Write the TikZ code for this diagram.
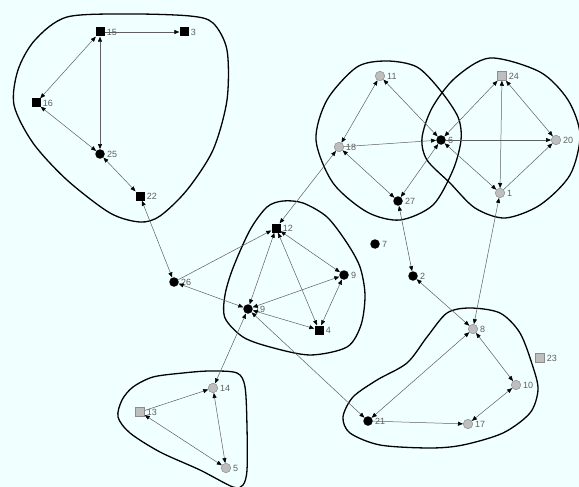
\documentclass[tikz,border=0pt]{standalone}
\usepackage{fontspec}
\setmainfont{Liberation Sans}
\usetikzlibrary{arrows.meta}
\definecolor{bg}{RGB}{240,255,255}
\definecolor{edgec}{RGB}{95,95,95}
\definecolor{gnode}{RGB}{190,190,190}
\definecolor{gline}{RGB}{140,140,140}
\definecolor{lblc}{RGB}{95,95,95}
\begin{document}
\begin{tikzpicture}[x=1pt,y=-1pt,
 bsq/.style={fill=black,rectangle,inner sep=0pt,minimum size=9pt},
 bc/.style={fill=black,circle,inner sep=0pt,minimum size=9.5pt},
 gc/.style={fill=gnode,draw=gline,line width=0.5pt,circle,inner sep=0pt,minimum size=9.5pt},
 gsq/.style={fill=gnode,draw=gline,line width=0.5pt,rectangle,inner sep=0pt,minimum size=9pt},
 lbl/.style={text=lblc,font=\fontsize{9}{10}\selectfont,inner sep=0pt,xshift=2pt},
 e/.style={draw=edgec,line width=0.5pt,>={Triangle[length=5pt,width=4pt,color=black]}},
 blob/.style={draw=black,line width=1.3pt}]
\useasboundingbox[fill=bg] (0,0) rectangle (579,487);
% blobs
\draw[blob] plot[smooth cycle] coordinates {(67,17) (130,14) (190,16) (213,23) (227,50) (227,100) (213,150) (187,190) (160,216) (140,222) (110,213) (67,180) (33,143) (14,105) (18,70) (35,40)};
\draw[blob] plot[smooth cycle] coordinates {(387,61) (417,67) (440,90) (458,117) (461,140) (453,170) (433,205) (400,220) (367,212) (333,183) (316,140) (327,100) (357,67)};
\draw[blob] plot[smooth cycle] coordinates {(490,58) (540,72) (568,100) (580,135) (570,175) (540,205) (505,218) (475,208) (450,183) (427,160) (422,138) (432,108) (455,78)};
\draw[blob] plot[smooth cycle] coordinates {(283,201) (303,203) (327,217) (347,243) (360,267) (365,295) (361,325) (347,347) (310,355) (270,347) (243,337) (225,318) (225,295) (233,268) (250,230) (267,207)};
\draw[blob] plot[smooth cycle] coordinates {(470,308) (500,313) (520,333) (533,367) (538,390) (530,413) (503,433) (463,445) (430,448) (380,445) (350,433) (343,417) (353,397) (377,380) (407,363) (427,337) (447,313)};
\draw[blob] plot[smooth cycle] coordinates {(133,387) (153,377) (183,373) (210,371) (237,373) (245,387) (247,427) (247,470) (243,485) (233,487) (200,470) (160,452) (130,433) (118,417) (122,400)};
% nodes
\node[bsq,label={[lbl]right:15}] (n15) at (100,32) {};
\node[bsq,label={[lbl]right:3}] (n3) at (184,32) {};
\node[bsq,label={[lbl]right:16}] (n16) at (36,103) {};
\node[bc,label={[lbl]right:25}] (n25) at (100,154) {};
\node[bsq,label={[lbl]right:22}] (n22) at (140,196) {};
\node[bc,label={[lbl]right:26}] (n26) at (174,282) {};
\node[bsq,label={[lbl]right:12}] (n12) at (276,228) {};
\node[bc,label={[lbl]right:9}] (n9) at (344,275) {};
\node[bc,label={[lbl]right:19}] (n19) at (248,309) {};
\node[bsq,label={[lbl]right:4}] (n4) at (319,330) {};
\node[bc,label={[lbl]right:7}] (n7) at (375,244) {};
\node[gc,label={[lbl]right:11}] (n11) at (380,76) {};
\node[gc,label={[lbl]right:18}] (n18) at (339,147) {};
\node[bc,label={[lbl]right:6}] (n6) at (441,140) {};
\node[bc,label={[lbl]right:27}] (n27) at (398,201) {};
\node[gsq,label={[lbl]right:24}] (n24) at (502,76) {};
\node[gc,label={[lbl]right:20}] (n20) at (556,140) {};
\node[gc,label={[lbl]right:1}] (n1) at (500,193) {};
\node[bc,label={[lbl]right:2}] (n2) at (413,276) {};
\node[gc,label={[lbl]right:8}] (n8) at (473,329) {};
\node[gsq,label={[lbl]right:23}] (n23) at (540,358) {};
\node[gc,label={[lbl]right:10}] (n10) at (516,385) {};
\node[bc,label={[lbl]right:21}] (n21) at (368,421) {};
\node[gc,label={[lbl]right:17}] (n17) at (468,424) {};
\node[gc,label={[lbl]right:14}] (n14) at (213,388) {};
\node[gsq,label={[lbl]right:13}] (n13) at (140,412) {};
\node[gc,label={[lbl]right:5}] (n5) at (226,468) {};
% edges
\draw[e,->] (n15) -- (n3);
\draw[e,<->] (n15) -- (n16);
\draw[e,<->] (n15) -- (n25);
\draw[e,<->] (n16) -- (n25);
\draw[e,<->] (n25) -- (n22);
\draw[e,<->] (n22) -- (n26);
\draw[e,->] (n26) -- (n12);
\draw[e,<->] (n26) -- (n19);
\draw[e,<->] (n12) -- (n18);
\draw[e,<->] (n12) -- (n9);
\draw[e,<->] (n12) -- (n19);
\draw[e,<->] (n12) -- (n4);
\draw[e,<->] (n19) -- (n9);
\draw[e,<->] (n19) -- (n4);
\draw[e,<->] (n9) -- (n4);
\draw[e,<->] (n19) -- (n14);
\draw[e,<->] (n19) -- (n21);
\draw[e,->] (n13) -- (n14);
\draw[e,<->] (n14) -- (n5);
\draw[e,<->] (n13) -- (n5);
\draw[e,<->] (n21) -- (n8);
\draw[e,->] (n21) -- (n17);
\draw[e,<->] (n17) -- (n10);
\draw[e,<->] (n8) -- (n10);
\draw[e,<->] (n8) -- (n2);
\draw[e,<->] (n8) -- (n1);
\draw[e,<->] (n27) -- (n2);
\draw[e,<->] (n27) -- (n18);
\draw[e,<->] (n27) -- (n6);
\draw[e,<->] (n18) -- (n11);
\draw[e,->] (n18) -- (n6);
\draw[e,<->] (n11) -- (n6);
\draw[e,<->] (n6) -- (n24);
\draw[e,->] (n6) -- (n20);
\draw[e,<->] (n6) -- (n1);
\draw[e,<->] (n24) -- (n1);
\draw[e,<->] (n24) -- (n20);
\draw[e,->] (n1) -- (n20);
\end{tikzpicture}
\end{document}
